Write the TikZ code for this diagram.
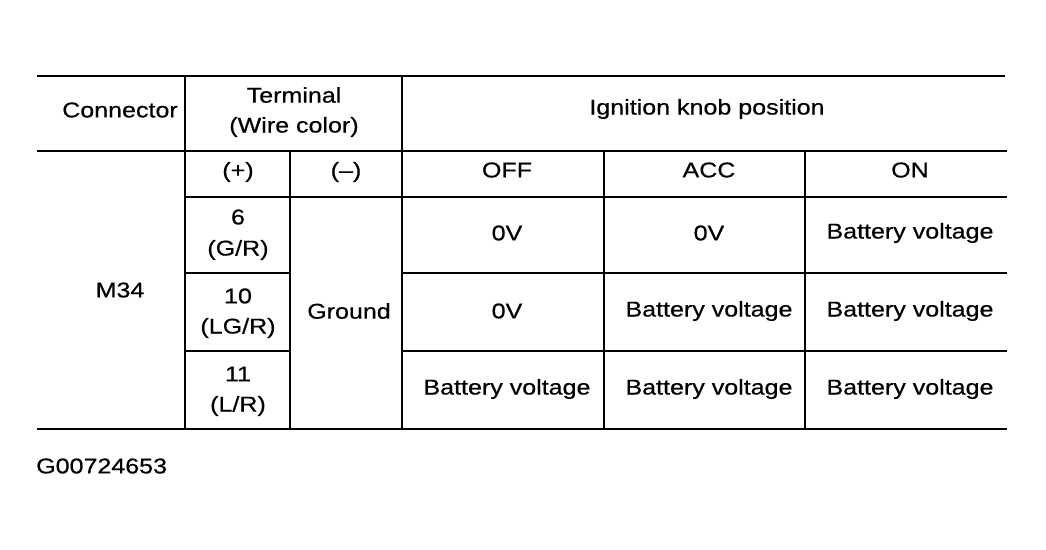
\documentclass[tikz,border=0pt]{standalone}
\usepackage{fontspec}
\newfontfamily\tabfont[FakeStretch=1.17,FakeBold=0.5]{Liberation Sans}
\begin{document}
\begin{tikzpicture}[x=1pt,y=-1pt,
  rule/.style={line width=1.9pt,line cap=butt},
  cell/.style={inner sep=0pt,font=\tabfont\fontsize{21.4}{26}\selectfont,text=black,align=center}]
\useasboundingbox[fill=white] (0,0) rectangle (1046,549);
% horizontal rules
\draw[rule] (37,76) -- (1005,76);
\draw[rule] (37,151) -- (1007,151);
\draw[rule] (185,197) -- (1007,197);
\draw[rule] (185,273) -- (290,273);
\draw[rule] (402,273) -- (1007,273);
\draw[rule] (185,351) -- (290,351);
\draw[rule] (402,351) -- (1007,351);
\draw[rule] (37,429) -- (1007,429);
% vertical rules
\draw[rule] (185,77) -- (185,429);
\draw[rule] (402,77) -- (402,429);
\draw[rule] (290,151) -- (290,429);
\draw[rule] (604,151) -- (604,429);
\draw[rule] (805,151) -- (805,429);
% header
\node[cell] (conn) at (120,110) {Connector};
\node[cell] (term) at (294,95) {Terminal};
\node[cell] (wire) at (294,127) {(Wire color)};
\node[cell] (ign) at (707,109) {Ignition knob position};
\node[cell] (plus) at (238,172) {(+)};
\node[cell] (minus) at (346,172) {(–)};
\node[cell] (off) at (507,170) {OFF};
\node[cell] (acc) at (709,170) {ACC};
\node[cell] (on) at (910,170) {ON};
% body
\node[cell] (m34) at (120,290) {M34};
\node[cell] (t6) at (238,217) {6};
\node[cell] (t6c) at (238,250) {(G/R)};
\node[cell] (t10) at (238,296) {10};
\node[cell] (t10c) at (238,328) {(LG/R)};
\node[cell] (t11) at (238,374) {11};
\node[cell] (t11c) at (238,406) {(L/R)};
\node[cell] (gnd) at (349,311) {Ground};
\node[cell] (a1) at (507,233) {0V};
\node[cell] (b1) at (709,233) {0V};
\node[cell] (c1) at (910,233) {Battery voltage};
\node[cell] (a2) at (507,311) {0V};
\node[cell] (b2) at (709,311) {Battery voltage};
\node[cell] (c2) at (910,311) {Battery voltage};
\node[cell] (a3) at (507,389) {Battery voltage};
\node[cell] (b3) at (709,389) {Battery voltage};
\node[cell] (c3) at (910,389) {Battery voltage};
\node[cell,anchor=west] (code) at (36,466) {G00724653};
\end{tikzpicture}
\end{document}
